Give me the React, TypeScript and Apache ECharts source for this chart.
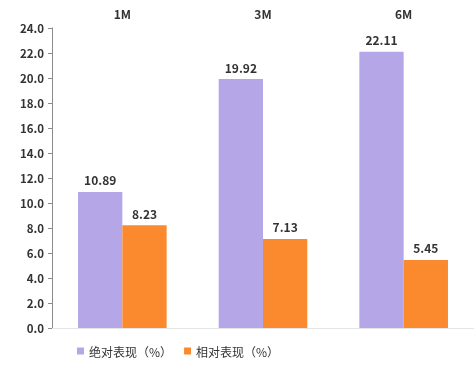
import React, { useEffect, useRef } from "react";
import * as echarts from "echarts";

const categories = ["1M", "3M", "6M"];
const absoluteValues = [10.89, 19.92, 22.11];
const relativeValues = [8.23, 7.13, 5.45];
const seriesNames = ["绝对表现（%）", "相对表现（%）"];

export default function App() {
  const ref = useRef<HTMLDivElement>(null);
  useEffect(() => {
    const chart = echarts.init(ref.current!, null, { renderer: "svg" });
    const font = "'Noto Sans CJK SC', 'Open Sans', sans-serif";
    const labelStyle = {
      show: true,
      position: "top" as const,
      fontWeight: "bold" as const,
      fontSize: 12,
      color: "#333",
      fontFamily: font,
      distance: 6,
      formatter: (p: any) => p.value.toFixed(2),
    };
    chart.setOption({
      animation: false,
      textStyle: { fontFamily: font },
      grid: { left: 52, right: 0, top: 28, bottom: 38 },
      legend: {
        bottom: 4,
        left: 72,
        itemWidth: 7,
        itemHeight: 7,
        itemGap: 12,
        icon: "rect",
        textStyle: { fontSize: 12, color: "#333", fontFamily: font },
        data: seriesNames,
      },
      xAxis: [
        {
          type: "category",
          data: categories,
          position: "top",
          axisLine: { show: false },
          axisTick: { show: false },
          axisLabel: { fontWeight: "bold", fontSize: 12, color: "#333", margin: 9 },
        },
        {
          type: "category",
          data: categories,
          position: "bottom",
          axisLine: { show: true, lineStyle: { color: "#e6e6e6", width: 1 } },
          axisTick: { show: false },
          axisLabel: { show: false },
        },
      ],
      yAxis: {
        type: "value",
        min: 0,
        max: 24,
        interval: 2,
        axisLine: { show: true, lineStyle: { color: "#8c8c8c" } },
        axisTick: { show: true, length: 4, lineStyle: { color: "#8c8c8c" } },
        splitLine: { show: false },
        axisLabel: {
          formatter: (v: number) => v.toFixed(1),
          fontWeight: "bold",
          fontSize: 11.5,
          color: "#333",
          margin: 8,
        },
      },
      series: [
        {
          name: seriesNames[0],
          type: "bar",
          data: absoluteValues,
          barGap: "0%",
          barCategoryGap: "37%",
          itemStyle: { color: "#b5a6e8" },
          label: labelStyle,
        },
        {
          name: seriesNames[1],
          type: "bar",
          data: relativeValues,
          itemStyle: { color: "#fb8a2e" },
          label: labelStyle,
        },
      ],
    });
    return () => chart.dispose();
  }, []);
  return <div ref={ref} style={{ width: 474, height: 366, position: "fixed", left: 0, top: 0 }} />;
}
